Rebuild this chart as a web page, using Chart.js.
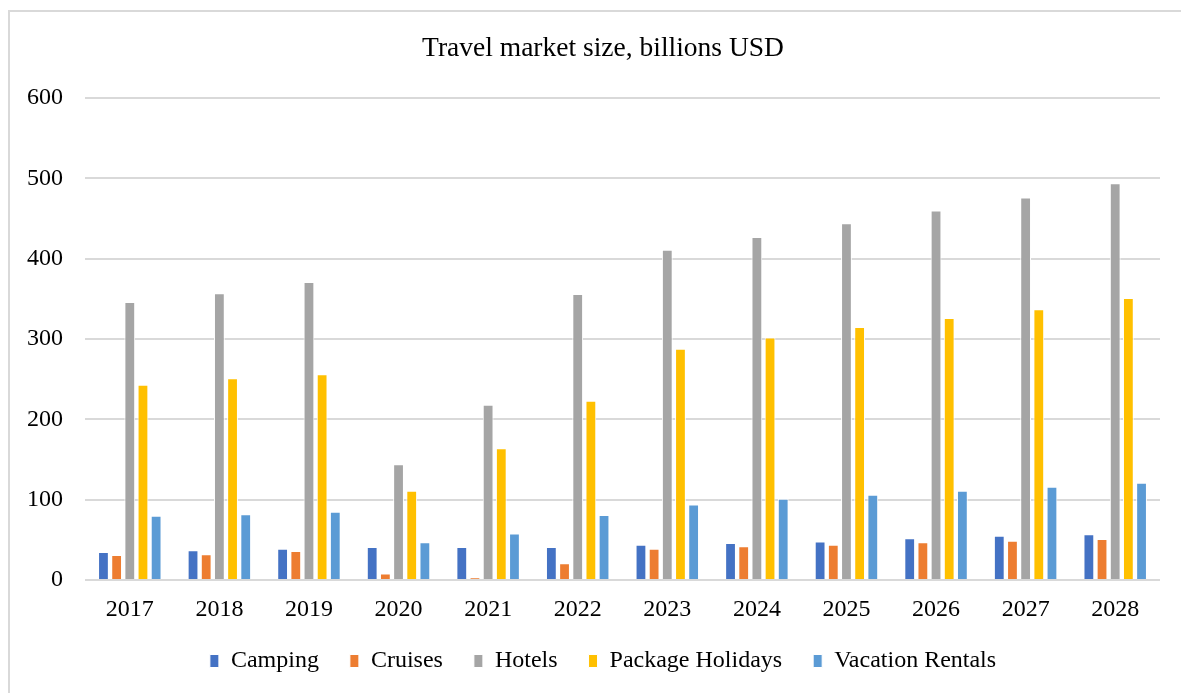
<!DOCTYPE html>
<html>
<head>
<meta charset="utf-8">
<title>Travel market size</title>
<script src="https://cdn.jsdelivr.net/npm/chart.js"></script>
<style>
    html, body { margin: 0; padding: 0; background: #fff; }
    body { width: 1181px; height: 693px; position: relative; overflow: hidden; }
    .frame {
        position: absolute; left: 8px; top: 10px; width: 1190px; height: 700px;
        border: 2px solid #d9d9d9; box-sizing: border-box;
    }
    .chart-box { position: absolute; left: 0; top: 0; width: 1181px; height: 693px; }
</style>
</head>
<body>
<div class="frame"></div>
<div class="chart-box">
    <canvas id="travelChart"></canvas>
</div>

<script>
    // Data
    const years = ['2017', '2018', '2019', '2020', '2021', '2022', '2023', '2024', '2025', '2026', '2027', '2028'];
    const camping = [35, 37, 39, 41, 41, 41, 44, 46, 48, 52, 55, 57];
    const cruises = [31, 32, 36, 8, 3, 21, 39, 42, 44, 47, 49, 51];
    const hotels = [346, 357, 371, 144, 218, 356, 411, 427, 444, 460, 476, 494];
    const packageHolidays = [243, 251, 256, 111, 164, 223, 288, 302, 315, 326, 337, 351];
    const vacationRentals = [80, 82, 85, 47, 58, 81, 94, 101, 106, 111, 116, 121];
    const yTicks = [0, 100, 200, 300, 400, 500, 600];

    const serif = "'Liberation Serif', 'Times New Roman', serif";
    Chart.defaults.font.family = serif;
    Chart.defaults.color = '#000';

    function makeSet(label, data, color) {
        return {
            label: label,
            data: data,
            backgroundColor: color,
            borderColor: '#ffffff',
            borderWidth: 1,
            categoryPercentage: 0.735,
            barPercentage: 0.82
        };
    }

    // nudge title and legend a little to the right, like in the original
    const boxShift = {
        id: 'boxShift',
        afterLayout(chart) {
            const lg = chart.legend;
            if (lg) { lg.left += 10; lg.right += 10; }
            const tt = chart.titleBlock;
            if (tt) { tt.left += 10; tt.right += 10; }
        }
    };

    const ctx = document.getElementById('travelChart').getContext('2d');
    new Chart(ctx, {
        type: 'bar',
        data: {
            labels: years,
            datasets: [
                makeSet('Camping', camping, '#4472C4'),
                makeSet('Cruises', cruises, '#ED7D31'),
                makeSet('Hotels', hotels, '#A5A5A5'),
                makeSet('Package Holidays', packageHolidays, '#FFC000'),
                makeSet('Vacation Rentals', vacationRentals, '#5B9BD5')
            ]
        },
        options: {
            responsive: true,
            maintainAspectRatio: false,
            animation: false,
            layout: {
                padding: { left: 26, right: 21, top: 0, bottom: 10 }
            },
            plugins: {
                title: {
                    display: true,
                    text: 'Travel market size, billions USD',
                    color: '#000',
                    font: { family: serif, size: 27.5, weight: 'normal' },
                    padding: { top: 32.5, bottom: 32.5 }
                },
                legend: {
                    position: 'bottom',
                    labels: {
                        color: '#000',
                        font: { family: serif, size: 24 },
                        boxWidth: 9,
                        boxHeight: 13,
                        padding: 31
                    }
                },
                tooltip: { enabled: false }
            },
            scales: {
                x: {
                    grid: { display: false, drawTicks: false },
                    border: { display: false },
                    ticks: {
                        color: '#000',
                        font: { family: serif, size: 24 },
                        padding: 15,
                        maxRotation: 0
                    },
                    afterFit: function(scale) { scale.height = 38; }
                },
                y: {
                    min: 0,
                    max: 600,
                    afterBuildTicks: function(scale) {
                        scale.ticks = yTicks.map(v => ({ value: v }));
                    },
                    grid: {
                        color: '#d9d9d9',
                        lineWidth: 2,
                        drawTicks: false
                    },
                    border: { display: false },
                    ticks: {
                        color: '#000',
                        font: { family: serif, size: 24 },
                        padding: 22
                    },
                    afterFit: function(scale) { scale.width = 59; }
                }
            }
        },
        plugins: [boxShift]
    });
</script>
</body>
</html>
